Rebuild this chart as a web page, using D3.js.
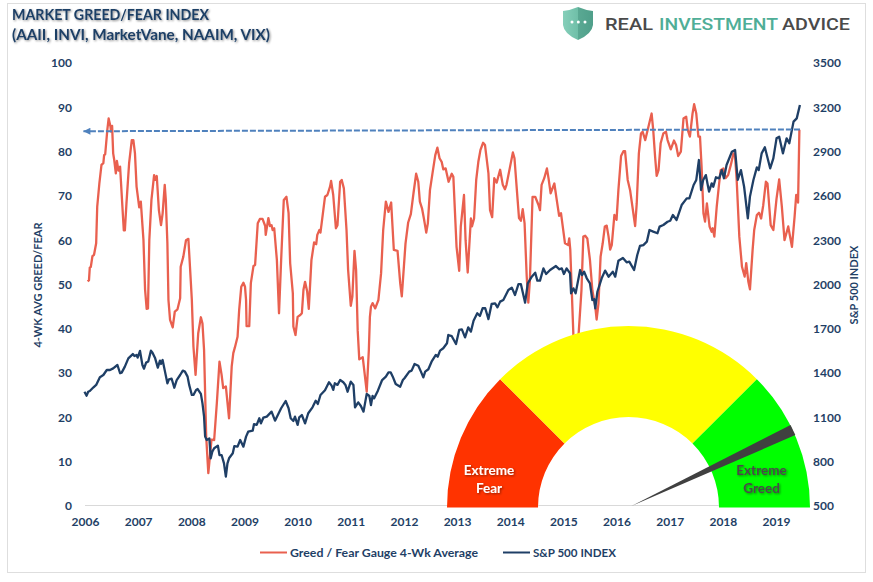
<!DOCTYPE html>
<html><head><meta charset="utf-8">
<script src="https://cdn.jsdelivr.net/npm/d3@7/dist/d3.min.js"></script>
<style>
html,body{margin:0;padding:0;background:#fff}
svg{display:block}
text{font-family:Lato,"Open Sans",sans-serif}
</style></head><body><div id="chart"></div>
<script>
const titleLines=["MARKET GREED/FEAR INDEX","(AAII, INVI, MarketVane, NAAIM, VIX)"];
const yearTicks=[2006,2007,2008,2009,2010,2011,2012,2013,2014,2015,2016,2017,2018,2019];
const leftTicks=[0,10,20,30,40,50,60,70,80,90,100];
const rightTicks=[500,800,1100,1400,1700,2000,2300,2600,2900,3200,3500];
const legendLabels=["Greed / Fear Gauge 4-Wk Average","S&P 500 INDEX"];
const leftAxisTitle="4-WK AVG GREED/FEAR";
const rightAxisTitle="S&P 500 INDEX";

const greedYears=[2006.05,2006.075,2006.09,2006.11,2006.14,2006.17,2006.21,2006.23,2006.27,2006.31,2006.345,2006.36,2006.38,2006.42,2006.445,2006.48,2006.49,2006.51,2006.53,2006.55,2006.58,2006.60,2006.63,2006.66,2006.70,2006.73,2006.75,2006.78,2006.83,2006.88,2006.91,2006.94,2006.97,2007.02,2007.05,2007.10,2007.13,2007.16,2007.185,2007.21,2007.25,2007.30,2007.32,2007.35,2007.39,2007.43,2007.46,2007.50,2007.52,2007.55,2007.57,2007.60,2007.65,2007.69,2007.74,2007.79,2007.80,2007.85,2007.90,2007.945,2007.975,2008.01,2008.04,2008.08,2008.13,2008.18,2008.21,2008.24,2008.28,2008.32,2008.35,2008.38,2008.43,2008.48,2008.53,2008.57,2008.60,2008.65,2008.71,2008.76,2008.79,2008.82,2008.87,2008.90,2008.94,2008.98,2009.01,2009.03,2009.04,2009.09,2009.12,2009.17,2009.20,2009.25,2009.29,2009.34,2009.39,2009.40,2009.45,2009.48,2009.51,2009.53,2009.56,2009.61,2009.65,2009.69,2009.74,2009.79,2009.83,2009.86,2009.91,2009.92,2009.96,2010.00,2010.05,2010.08,2010.11,2010.14,2010.18,2010.21,2010.26,2010.31,2010.35,2010.37,2010.41,2010.43,2010.515,2010.56,2010.61,2010.63,2010.67,2010.72,2010.75,2010.80,2010.83,2010.87,2010.92,2010.95,2011.00,2011.03,2011.07,2011.10,2011.13,2011.16,2011.225,2011.30,2011.34,2011.36,2011.38,2011.41,2011.46,2011.52,2011.57,2011.61,2011.66,2011.71,2011.76,2011.81,2011.88,2011.93,2011.96,2012.03,2012.08,2012.13,2012.18,2012.23,2012.27,2012.30,2012.34,2012.38,2012.42,2012.45,2012.49,2012.54,2012.59,2012.63,2012.67,2012.71,2012.74,2012.785,2012.84,2012.90,2012.93,2012.99,2013.04,2013.07,2013.13,2013.16,2013.20,2013.26,2013.28,2013.32,2013.36,2013.40,2013.44,2013.49,2013.525,2013.59,2013.62,2013.66,2013.70,2013.745,2013.81,2013.86,2013.90,2013.93,2014.01,2014.05,2014.08,2014.12,2014.165,2014.20,2014.235,2014.27,2014.31,2014.34,2014.37,2014.42,2014.47,2014.53,2014.56,2014.59,2014.64,2014.69,2014.72,2014.76,2014.83,2014.87,2014.92,2014.955,2015.03,2015.09,2015.11,2015.13,2015.19,2015.22,2015.25,2015.285,2015.34,2015.375,2015.41,2015.45,2015.50,2015.545,2015.60,2015.625,2015.66,2015.70,2015.74,2015.78,2015.815,2015.85,2015.88,2015.91,2015.96,2016.00,2016.035,2016.085,2016.13,2016.16,2016.21,2016.255,2016.35,2016.38,2016.42,2016.46,2016.49,2016.54,2016.60,2016.66,2016.69,2016.725,2016.755,2016.79,2016.83,2016.88,2016.93,2016.96,2017.02,2017.08,2017.12,2017.16,2017.21,2017.26,2017.31,2017.34,2017.38,2017.43,2017.46,2017.50,2017.54,2017.57,2017.60,2017.635,2017.665,2017.70,2017.75,2017.79,2017.81,2017.84,2017.885,2017.93,2017.96,2018.01,2018.05,2018.10,2018.15,2018.20,2018.23,2018.26,2018.31,2018.36,2018.41,2018.44,2018.48,2018.51,2018.56,2018.59,2018.64,2018.68,2018.72,2018.76,2018.81,2018.84,2018.90,2018.95,2019.01,2019.06,2019.11,2019.16,2019.23,2019.30,2019.35,2019.38,2019.415,2019.44,2019.45];
const greedValues=[50.7,51.0,53.8,54.0,56.4,56.7,59.3,67.6,72.8,77.0,77.4,79.2,79.4,84.9,87.5,85.6,84.5,85.8,79.6,78.1,75.1,77.9,75.7,76.6,68.3,62.2,62.2,68.3,77.4,82.6,82.6,79.6,72.1,67.4,68.7,60.0,48.9,44.5,44.6,60.0,69.1,74.7,73.6,74.5,66.8,63.4,66.0,72.5,69.1,59.3,46.5,42.0,40.3,43.9,44.4,46.9,54.0,56.3,60.0,60.3,54.0,46.5,36.0,29.6,39.0,42.6,41.2,35.2,15.7,7.4,11.2,15.0,14.9,23.2,32.6,29.6,26.6,27.0,19.8,31.5,34.5,35.8,38.2,44.2,49.5,50.4,49.5,46.5,40.6,40.6,50.3,54.2,54.4,63.8,64.8,64.8,63.2,61.2,65.0,63.2,63.4,62.3,62.7,55.5,43.5,55.5,69.1,69.8,66.1,54.8,48.0,40.5,38.6,42.7,43.1,43.5,48.8,50.6,48.4,44.5,55.5,59.5,59.1,61.2,62.3,61.7,69.8,70.2,72.1,73.4,70.2,62.7,63.4,73.2,73.6,71.7,62.3,53.3,45.2,47.3,57.6,53.3,39.7,33.1,33.6,25.8,35.2,42.7,45.0,45.8,44.6,46.5,52.5,62.3,68.7,66.4,68.5,57.8,57.6,50.3,47.3,59.3,64.0,65.9,70.6,75.0,73.2,68.7,67.2,64.6,61.7,63.8,71.3,75.3,79.2,80.9,78.5,77.7,76.0,76.2,73.2,75.0,74.3,58.5,53.1,63.1,70.2,60.0,52.7,64.9,63.1,64.9,73.6,77.7,80.4,82.0,81.5,75.1,66.8,65.2,74.0,73.0,75.9,72.5,71.5,72.5,77.4,79.8,78.5,72.1,65.0,64.4,67.0,63.8,51.8,45.9,51.0,69.8,69.8,68.0,66.8,72.5,74.0,76.2,74.0,70.6,72.8,69.5,65.5,66.1,59.3,58.9,60.4,57.8,38.0,34.0,34.0,38.5,48.7,60.8,61.0,60.4,55.5,48.7,45.0,42.1,45.7,56.3,59.3,63.1,63.3,60.8,57.9,58.9,65.7,64.6,71.3,79.0,80.1,80.1,73.6,71.3,63.2,68.3,79.6,84.1,84.5,82.6,85.6,88.6,84.9,78.9,74.5,75.8,81.9,84.1,84.5,82.6,80.5,82.5,81.5,79.0,80.0,87.5,87.9,84.9,83.4,88.6,90.7,88.6,83.4,83.4,76.6,66.1,64.2,68.3,63.1,61.9,62.7,60.8,67.6,72.8,75.8,76.2,74.0,74.7,77.0,79.6,78.9,73.6,60.8,54.0,51.8,54.8,50.6,48.9,57.8,62.3,65.7,66.2,64.9,67.9,73.2,72.8,63.4,62.3,69.4,73.7,67.6,60.0,63.1,58.5,65.3,70.2,68.5,84.9,85.0];

const spxYears=[2005.99,2006.03,2006.06,2006.09,2006.16,2006.21,2006.28,2006.345,2006.41,2006.47,2006.53,2006.61,2006.66,2006.69,2006.75,2006.815,2006.90,2006.93,2006.97,2006.99,2007.035,2007.08,2007.11,2007.15,2007.19,2007.24,2007.27,2007.32,2007.37,2007.41,2007.43,2007.46,2007.505,2007.55,2007.58,2007.63,2007.68,2007.725,2007.79,2007.84,2007.88,2007.93,2007.96,2008.01,2008.04,2008.09,2008.12,2008.18,2008.21,2008.24,2008.26,2008.29,2008.34,2008.365,2008.395,2008.43,2008.50,2008.53,2008.57,2008.615,2008.65,2008.68,2008.71,2008.78,2008.81,2008.87,2008.92,2008.98,2009.03,2009.07,2009.155,2009.18,2009.23,2009.28,2009.31,2009.355,2009.42,2009.51,2009.575,2009.69,2009.775,2009.83,2009.87,2009.92,2009.95,2010.00,2010.03,2010.08,2010.14,2010.20,2010.28,2010.34,2010.38,2010.43,2010.515,2010.59,2010.64,2010.67,2010.70,2010.75,2010.80,2010.86,2010.90,2010.94,2011.00,2011.05,2011.08,2011.14,2011.19,2011.24,2011.30,2011.35,2011.38,2011.41,2011.44,2011.51,2011.59,2011.66,2011.71,2011.75,2011.79,2011.845,2011.93,2011.98,2012.01,2012.10,2012.145,2012.20,2012.27,2012.32,2012.365,2012.40,2012.46,2012.52,2012.60,2012.635,2012.68,2012.74,2012.81,2012.835,2012.90,2012.98,2013.04,2013.09,2013.15,2013.21,2013.26,2013.31,2013.38,2013.43,2013.48,2013.53,2013.59,2013.65,2013.715,2013.76,2013.81,2013.87,2013.965,2014.03,2014.09,2014.155,2014.20,2014.28,2014.33,2014.405,2014.47,2014.51,2014.56,2014.625,2014.675,2014.75,2014.86,2014.925,2014.97,2015.01,2015.06,2015.125,2015.145,2015.19,2015.23,2015.315,2015.35,2015.39,2015.44,2015.50,2015.545,2015.58,2015.60,2015.64,2015.72,2015.785,2015.85,2015.93,2015.975,2016.035,2016.12,2016.19,2016.24,2016.33,2016.39,2016.44,2016.505,2016.57,2016.62,2016.69,2016.77,2016.81,2016.88,2016.96,2017.01,2017.06,2017.13,2017.225,2017.32,2017.37,2017.45,2017.50,2017.55,2017.59,2017.63,2017.68,2017.74,2017.79,2017.82,2017.87,2017.93,2017.98,2018.02,2018.07,2018.17,2018.23,2018.28,2018.34,2018.40,2018.47,2018.51,2018.575,2018.64,2018.675,2018.73,2018.79,2018.89,2018.95,2019.01,2019.06,2019.13,2019.20,2019.25,2019.33,2019.39,2019.45];
const spxValues=[1274,1247,1274,1279,1304,1320,1372,1387,1421,1421,1432,1455,1399,1403,1444,1500,1529,1516,1523,1505,1550,1455,1430,1471,1478,1552,1538,1500,1437,1484,1462,1489,1410,1331,1358,1362,1301,1353,1387,1417,1410,1376,1320,1252,1252,1286,1292,1259,1195,1105,970,947,958,823,868,891,909,845,845,789,699,789,823,857,906,902,947,902,970,1003,1010,1055,1049,1094,1060,1098,1105,1139,1078,1162,1211,1162,1094,1076,1105,1049,1100,1116,1060,1128,1168,1213,1191,1252,1284,1338,1315,1286,1331,1320,1353,1338,1320,1274,1342,1320,1168,1202,1177,1139,1259,1245,1184,1245,1229,1281,1353,1376,1405,1405,1376,1326,1308,1353,1365,1410,1417,1462,1450,1410,1371,1410,1426,1477,1523,1511,1552,1568,1602,1658,1650,1597,1692,1696,1642,1710,1681,1755,1805,1787,1839,1839,1766,1868,1872,1845,1884,1895,1963,1979,1929,2003,2003,1877,2008,2053,2080,2026,2026,2109,2071,2098,2125,2103,2109,2071,2109,2076,1940,1974,1940,2098,2064,2087,2042,2008,1895,1900,1839,1951,2042,2094,2053,2087,2053,2161,2180,2150,2155,2098,2200,2261,2267,2290,2369,2358,2347,2392,2403,2425,2432,2471,2437,2538,2583,2583,2674,2708,2843,2640,2708,2741,2629,2685,2662,2726,2719,2775,2719,2809,2899,2911,2708,2775,2662,2448,2595,2708,2793,2775,2888,2929,2787,2854,2990,3001,2888,2990,2956,3103,3125,3215];

const referenceYears=[2019.45,2005.97];
const referenceValues=[85,84.6];
const gaugeBands=[0,25,75,100];
const gaugeColors=["#ff3300","#ffff00","#00ff00"];
const needleValue=86;
const fearLines=["Extreme","Fear"];
const greedLines=["Extreme","Greed"];

const W=873,H=582,navy="#1f3f66",red="#e9604f",blue="#4f81bd";
const svg=d3.select("#chart").append("svg").attr("width",W).attr("height",H);
const defs=svg.append("defs");
const sh=defs.append("filter").attr("id","softShadow").attr("x","-10%").attr("y","-30%").attr("width","120%").attr("height","170%");
sh.append("feDropShadow").attr("dx",1).attr("dy",1).attr("stdDeviation",1).attr("flood-color","#000").attr("flood-opacity",.45);

svg.append("rect").attr("x",7.5).attr("y",3.5).attr("width",858).attr("height",569).attr("fill","#fff").attr("stroke","#dedede").attr("stroke-width",1);

const x=d3.scaleLinear().domain([2006,2019]).range([85,776]);
const yL=d3.scaleLinear().domain([0,100]).range([506,63]);
const yR=d3.scaleLinear().domain([500,3500]).range([506,63]);

const fmt=d3.format("d");
const axB=svg.append("g").attr("transform","translate(0,505.5)").call(d3.axisBottom(x).tickValues(yearTicks).tickFormat(fmt).tickSize(0).tickPadding(12));
axB.select(".domain").remove();
svg.insert("line","g").attr("x1",85).attr("x2",800).attr("y1",505.5).attr("y2",505.5).attr("stroke","#d9d9d9");
const axL=svg.append("g").attr("transform","translate(72,0)").call(d3.axisLeft(yL).tickValues(leftTicks).tickFormat(fmt).tickSize(0).tickPadding(0));
axL.select(".domain").remove();
const axR=svg.append("g").attr("transform","translate(813,0)").call(d3.axisRight(yR).tickValues(rightTicks).tickFormat(fmt).tickSize(0).tickPadding(0));
axR.select(".domain").remove();
svg.selectAll("g.tick text").attr("fill",navy).attr("font-family","Lato").attr("font-weight",700).attr("font-size",12);

svg.append("text").attr("transform","translate(42,285) rotate(-90)").attr("text-anchor","middle").attr("fill",navy).attr("font-weight",700).attr("font-size",11).text(leftAxisTitle);
svg.append("text").attr("transform","translate(858,285) rotate(-90)").attr("text-anchor","middle").attr("fill",navy).attr("font-weight",700).attr("font-size",11).text(rightAxisTitle);

const lineOf=(xs,vs,yS)=>d3.line().x(i=>x(xs[i])).y(i=>yS(vs[i]))(d3.range(xs.length));
svg.append("path").attr("d",lineOf(greedYears,greedValues,yL)).attr("fill","none").attr("stroke",red).attr("stroke-width",2.3).attr("stroke-linejoin","round");
svg.append("path").attr("d",lineOf(spxYears,spxValues,yR)).attr("fill","none").attr("stroke",navy).attr("stroke-width",2.3).attr("stroke-linejoin","round");

// reference arrow
defs.append("marker").attr("id","arrowHead").attr("viewBox","0 0 10 10").attr("refX",10).attr("refY",5).attr("markerWidth",9).attr("markerHeight",7).attr("markerUnits","userSpaceOnUse").attr("orient","auto")
  .append("path").attr("d","M0,0L10,5L0,10Z").attr("fill",blue);
svg.append("path").attr("d",lineOf(referenceYears,referenceValues,yL)).attr("fill","none").attr("stroke",blue).attr("stroke-width",2).attr("stroke-dasharray","6,2").attr("marker-end","url(#arrowHead)");

// gauge
const gc={x:628.5,y:507.5},gR=181.5,gr=90.5;
const ang=d3.scaleLinear().domain([0,100]).range([-Math.PI/2,Math.PI/2]);
const g=svg.append("g").attr("transform",`translate(${gc.x},${gc.y})`);
const arc=d3.arc().innerRadius(gr).outerRadius(gR);
g.selectAll("path.band").data(gaugeColors).join("path").attr("class","band").attr("fill",d=>d)
  .attr("d",(d,i)=>arc({startAngle:ang(gaugeBands[i]),endAngle:ang(gaugeBands[i+1])}));
g.append("line").attr("x1",-gr).attr("x2",gr).attr("y1",-2).attr("y2",-2).attr("stroke","#d9d9d9");
const a=ang(needleValue),da=1.8*Math.PI/180,R2=178.5;
const pt=(t,r)=>[3+r*Math.sin(t),-1.5-r*Math.cos(t)];
g.append("path").attr("fill","#404040").attr("d",d3.line()([pt(a,0),pt(a-da,R2),pt(a+da,R2)])+"Z");

const gaugeText=(lines,cx,fill)=>{
  lines.forEach((t,i)=>svg.append("text").attr("x",cx).attr("y",475+i*18).attr("text-anchor","middle").attr("fill",fill).attr("font-weight",700).attr("font-size",13.5).attr("filter","url(#softShadow)").text(t));
};
gaugeText(fearLines,489,"#ffffff");
gaugeText(greedLines,761.5,"#4a4a4a");

// title
const titleWidths=[197,258];
titleLines.forEach((t,i)=>svg.append("text").attr("x",12).attr("y",20+i*20).attr("fill",navy).attr("font-weight",700).attr("font-size",15).attr("textLength",titleWidths[i]).attr("lengthAdjust","spacingAndGlyphs").attr("filter","url(#softShadow)").text(t));

// legend
const lg=[{c:red,lx:260,tx:290,w:188},{c:navy,lx:503,tx:533,w:83}];
lg.forEach((d,i)=>{
  svg.append("line").attr("x1",d.lx).attr("x2",d.lx+27).attr("y1",552.5).attr("y2",552.5).attr("stroke",d.c).attr("stroke-width",2);
  svg.append("text").attr("x",d.tx).attr("y",557).attr("fill",navy).attr("font-weight",700).attr("font-size",12).attr("textLength",d.w).attr("lengthAdjust","spacingAndGlyphs").text(legendLabels[i]);
});

// logo
const grad=defs.append("linearGradient").attr("id","shield").attr("x1",0).attr("x2",1).attr("y1",0).attr("y2",0);
[[0,"#86cfba"],[.5,"#6fbfa8"],[.5,"#5aa993"],[1,"#4f9f8a"]].forEach(s=>grad.append("stop").attr("offset",s[0]).attr("stop-color",s[1]));
svg.append("path").attr("fill","url(#shield)").attr("d","M563,11 Q571,10 578,7 Q585,10 593,11 L593,25 Q592,34 578,40 Q564,34 563,25Z");
[572,578.3,585].forEach(cx=>svg.append("circle").attr("cx",cx).attr("cy",22).attr("r",1.5).attr("fill","#fff"));
[["REAL",605,48,"#4a4a4a"],["INVESTMENT",659,119,"#4fae97"],["ADVICE",782,68,"#4a4a4a"]].forEach(d=>{
  svg.append("text").attr("x",d[1]).attr("y",29.5).attr("textLength",d[2]).attr("lengthAdjust","spacingAndGlyphs").attr("fill",d[3]).style("font-family","Roboto").attr("font-size",17).attr("font-weight",500).text(d[0]);
});
</script></body></html>
